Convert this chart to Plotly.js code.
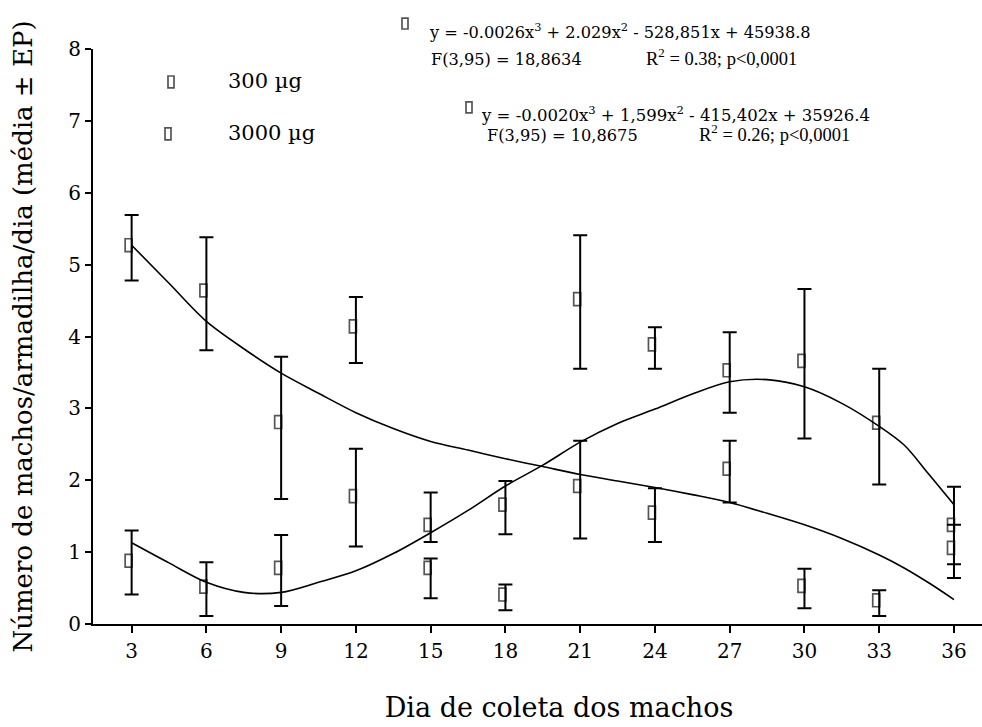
<!DOCTYPE html>
<html>
<head>
<meta charset="utf-8">
<script src="https://cdn.plot.ly/plotly-3.0.1.min.js"></script>
<style>
html, body { margin: 0; padding: 0; overflow: hidden; background: #fff; }
#chart { width: 1026px; height: 727px; }
</style>
</head>
<body>
<div id="chart"></div>
<script>
// ---- data ----
var days = [3, 6, 9, 12, 15, 18, 21, 24, 27, 30, 33, 36];
var tickLabels = ['3', '6', '9', '12', '15', '18', '21', '24', '27', '30', '33', '36'];

// 300 µg (decreasing fit)
var mean300 = [5.27, 4.64, 2.81, 4.14, 0.78, 0.41, 1.92, 1.55, 2.16, 0.53, 0.33, 1.06];
var upper300 = [5.69, 5.38, 3.72, 4.55, 0.91, 0.55, 2.55, 1.89, 2.55, 0.77, 0.47, 1.38];
var lower300 = [4.78, 3.81, 1.74, 3.63, 0.36, 0.19, 1.19, 1.14, 1.69, 0.22, 0.11, 0.64];

// 3000 µg (rising then falling fit)
var mean3000 = [0.88, 0.52, 0.78, 1.78, 1.38, 1.66, 4.52, 3.89, 3.53, 3.66, 2.80, 1.38];
var upper3000 = [1.30, 0.86, 1.24, 2.44, 1.83, 1.99, 5.41, 4.13, 4.06, 4.66, 3.55, 1.91];
var lower3000 = [0.41, 0.11, 0.25, 1.08, 1.14, 1.25, 3.55, 3.55, 2.94, 2.58, 1.94, 0.83];

// fitted curves
var curveDays = [3, 4.5, 6, 7.5, 9, 10.5, 12, 13.5, 15, 16.5, 18, 19.5, 21, 22.5, 24, 25.5, 27, 28.5, 30, 31.5, 33, 34, 35, 36];
var curve300 = [5.27, 4.74, 4.21, 3.83, 3.49, 3.21, 2.94, 2.72, 2.54, 2.42, 2.30, 2.19, 2.08, 1.99, 1.90, 1.80, 1.69, 1.54, 1.38, 1.19, 0.96, 0.78, 0.57, 0.34];
var curve3000 = [1.13, 0.85, 0.58, 0.44, 0.44, 0.58, 0.74, 0.98, 1.27, 1.58, 1.92, 2.21, 2.53, 2.79, 2.99, 3.20, 3.37, 3.40, 3.30, 3.07, 2.75, 2.49, 2.08, 1.66];

var seriesNames = ['300 µg', '3000 µg'];
var eqLines = [
  'y = -0.0026x<sup>3</sup> + 2.029x<sup>2</sup> - 528,851x + 45938.8',
  'F(3,95) = 18,8634', 'R<sup>2</sup> = 0.38; p<0,0001',
  'y = -0.0020x<sup>3</sup> + 1,599x<sup>2</sup> - 415,402x + 35926.4',
  'F(3,95) = 10,8675', 'R<sup>2</sup> = 0.26; p<0,0001'
];

// ---- build ----
function diff(a, b) { return a.map(function (v, i) { return +(v - b[i]).toFixed(3); }); }
var SERIF = 'DejaVu Serif, serif';
var NARROW = 'Liberation Serif, serif';
var BOX_H = 0.18, BOX_W = 0.28, BOX_SHIFT = 0.12;

function curveTrace(y) {
  return { x: curveDays, y: y, type: 'scatter', mode: 'lines',
    line: { color: '#000', width: 1.6, shape: 'spline', smoothing: 0.9 },
    hoverinfo: 'skip', showlegend: false };
}
function errTrace(y, up, lo, name) {
  return { x: days, y: y, type: 'scatter', mode: 'markers', name: name,
    marker: { size: 1, color: 'rgba(0,0,0,0)' },
    error_y: { type: 'data', symmetric: false, array: diff(up, y), arrayminus: diff(y, lo),
      color: '#000', thickness: 2, width: 7 },
    showlegend: false };
}
// open vertical rectangles as point markers, placed through the axes
function boxTrace(y, name) {
  return { x: days, y: y.map(function () { return BOX_H; }),
    base: y.map(function (v) { return v - BOX_H / 2; }),
    type: 'bar', name: name, width: BOX_W, offset: -BOX_W / 2 - BOX_SHIFT,
    marker: { color: 'rgba(0,0,0,0)', line: { color: '#555', width: 1.7 } },
    showlegend: false, hoverinfo: 'skip' };
}

var data = [
  boxTrace(mean300, seriesNames[0]),
  boxTrace(mean3000, seriesNames[1]),
  curveTrace(curve300), curveTrace(curve3000),
  errTrace(mean300, upper300, lower300, seriesNames[0]),
  errTrace(mean3000, upper3000, lower3000, seriesNames[1])
];

// pixel -> paper helpers (plot area 93..1025 x 49..624.5)
var L = 93, W = 932, T = 49, H = 575.5;
function px(x) { return (x - L) / W; }
function py(y) { return (T + H - y) / H; }
function ann(text, x, y, size, family) {
  return { text: text, xref: 'paper', yref: 'paper', x: px(x), y: py(y),
    xanchor: 'left', yanchor: 'middle', showarrow: false,
    font: { family: family || SERIF, size: size, color: '#000' } };
}
function box(x0, y0, x1, y1) {
  return { type: 'rect', xref: 'paper', yref: 'paper',
    x0: px(x0), x1: px(x1), y0: py(y1), y1: py(y0),
    line: { color: '#555', width: 1.7 }, fillcolor: 'rgba(0,0,0,0)' };
}

var annotations = [
  ann(seriesNames[0], 226, 81, 21),
  ann(seriesNames[1], 226, 133, 21),
  ann(eqLines[0], 427, 31, 16.2),
  ann(eqLines[1], 429, 60, 16.2),
  ann(eqLines[2], 644, 57, 18.5, NARROW),
  ann(eqLines[3], 479, 114, 16.5),
  ann(eqLines[4], 485, 136, 16.2),
  ann(eqLines[5], 697, 133.5, 18.5, NARROW)
];
var shapes = [
  box(168, 76, 174, 88),
  box(165, 128, 171, 140),
  box(402, 18, 408, 29),
  box(466, 102, 472, 113)
];

var layout = {
  width: 1026, height: 727,
  margin: { l: 93, r: 1, t: 49, b: 102.5 },
  paper_bgcolor: '#fff', plot_bgcolor: '#fff',
  showlegend: false, barmode: 'overlay',
  xaxis: {
    range: [1.45, 38.85], tickmode: 'array', tickvals: days, ticktext: tickLabels,
    ticks: 'outside', ticklen: 7, tickwidth: 2, tickcolor: '#000',
    showline: true, linewidth: 2, linecolor: '#000', mirror: false,
    showgrid: false, zeroline: false,
    tickfont: { family: SERIF, size: 20, color: '#000' },
    ticklabelstandoff: 1,
    title: { text: 'Dia de coleta dos machos', font: { family: SERIF, size: 27, color: '#000' }, standoff: 36 }
  },
  yaxis: {
    range: [0, 8], tickmode: 'linear', tick0: 0, dtick: 1,
    ticks: 'outside', ticklen: 6, tickwidth: 2, tickcolor: '#000',
    showline: true, linewidth: 2, linecolor: '#000',
    showgrid: false, zeroline: false,
    tickfont: { family: SERIF, size: 20, color: '#000' },
    title: { text: 'Número de machos/armadilha/dia (média ± EP)', font: { family: SERIF, size: 26, color: '#000' }, standoff: 28 }
  },
  annotations: annotations,
  shapes: shapes
};

Plotly.newPlot('chart', data, layout, { staticPlot: true, displayModeBar: false });
</script>
</body>
</html>
